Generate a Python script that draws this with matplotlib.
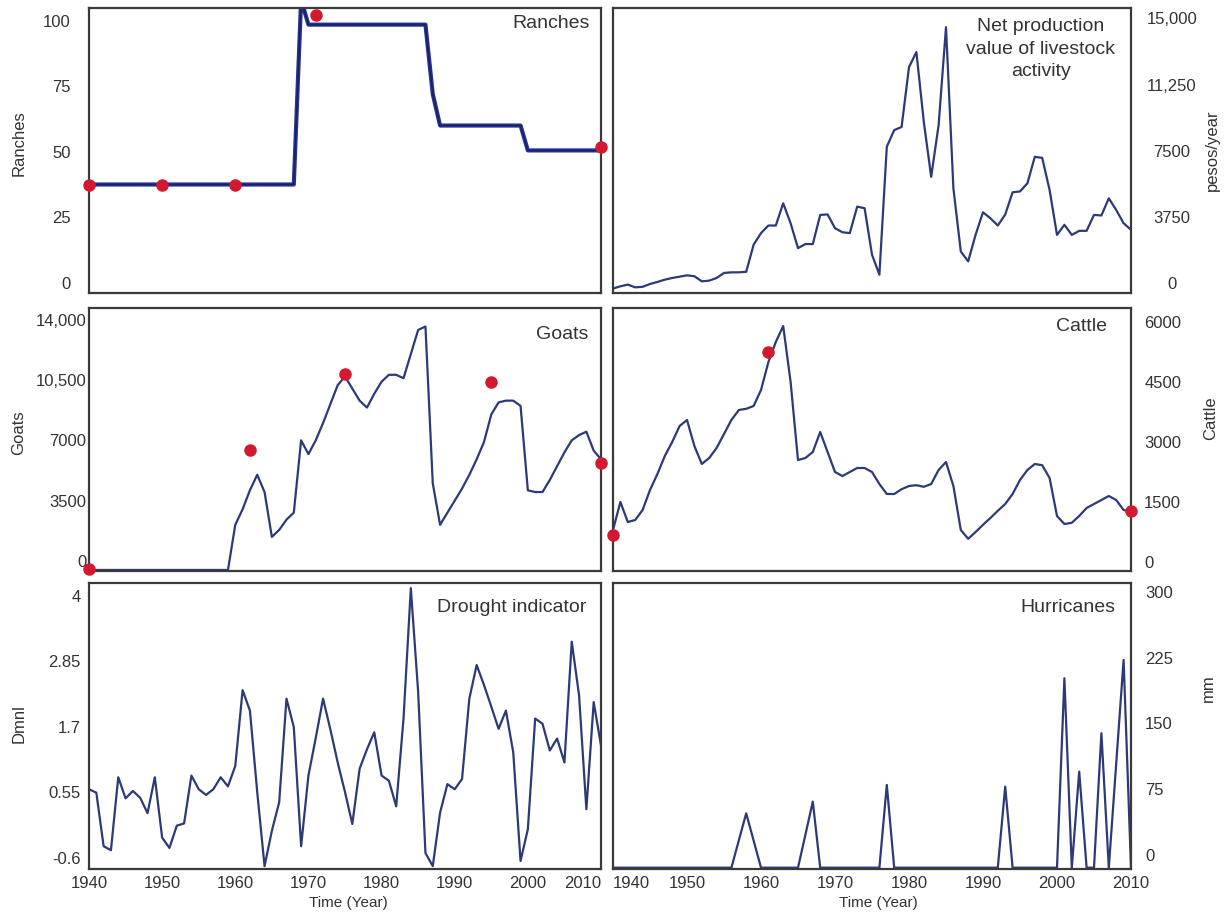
import matplotlib
matplotlib.use("Agg")
import matplotlib.pyplot as plt

plt.rcParams["font.family"] = ["Liberation Sans", "DejaVu Sans"]

# ---- data ----
years = list(range(1940, 2011))

ranches = [
    37.5, 37.5, 37.5, 37.5, 37.5, 37.5, 37.5, 37.5, 37.5, 37.5,   # 1940s
    37.5, 37.5, 37.5, 37.5, 37.5, 37.5, 37.5, 37.5, 37.5, 37.5,   # 1950s
    37.5, 37.5, 37.5, 37.5, 37.5, 37.5, 37.5, 37.5, 37.5, 108,    # 1960s
    98.5, 98.5, 98.5, 98.5, 98.5, 98.5, 98.5, 98.5, 98.5, 98.5,   # 1970s
    98.5, 98.5, 98.5, 98.5, 98.5, 98.5, 98.5, 72, 60, 60,         # 1980s
    60, 60, 60, 60, 60, 60, 60, 60, 60, 60,                       # 1990s
    50.5, 50.5, 50.5, 50.5, 50.5, 50.5, 50.5, 50.5, 50.5, 50.5, 50.5,
]
ranch_obs_years = [1940, 1950, 1960, 1971, 2010]
ranch_obs = [37.5, 37.5, 37.5, 102, 52]

net_production = [
    -300, -170, -75, -230, -200, -40, 75, 205, 300, 375,
    450, 400, 110, 150, 300, 585, 620, 620, 650, 2180,
    2840, 3270, 3270, 4530, 3400, 1990, 2220, 2220, 3870, 3900,
    3120, 2890, 2840, 4340, 4250, 1620, 490, 7730, 8670, 8850,
    12240, 13090, 9140, 6030, 8950, 14500, 5375, 1800, 1240, 2750,
    4020, 3680, 3270, 3890, 5150, 5200, 5660, 7160, 7100, 5280,
    2740, 3310, 2740, 2970, 2970, 3870, 3840, 4810, 4150, 3400, 3030,
]

goats = [
    -520, -520, -520, -520, -520, -520, -520, -520, -520, -520,
    -520, -520, -520, -520, -520, -520, -520, -520, -520, -520,
    2100, 3000, 4100, 5000, 4000, 1400, 1800, 2400, 2800, 7000,
    6200, 7000, 8000, 9100, 10200, 10700, 10000, 9300, 8900, 9700,
    10400, 10800, 10800, 10600, 12000, 13400, 13600, 4500, 2100, 2800,
    3500, 4200, 5000, 5900, 6900, 8500, 9200, 9300, 9300, 9000,
    4100, 4000, 4000, 4700, 5500, 6300, 7000, 7300, 7500, 6400, 5900,
]
goat_obs_years = [1940, 1962, 1975, 1995, 2010]
goat_obs = [-460, 6440, 10830, 10370, 5670]

cattle = [
    800, 1500, 1000, 1050, 1300, 1800, 2200, 2650, 3000, 3400,
    3550, 2900, 2450, 2600, 2850, 3200, 3550, 3800, 3830, 3900,
    4300, 5000, 5500, 5900, 4500, 2550, 2600, 2750, 3250, 2750,
    2250, 2150, 2250, 2350, 2350, 2250, 1950, 1700, 1700, 1820,
    1900, 1920, 1880, 1950, 2300, 2500, 1900, 800, 580, 750,
    930, 1100, 1280, 1450, 1700, 2050, 2300, 2450, 2420, 2100,
    1150, 950, 980, 1150, 1350, 1450, 1550, 1650, 1550, 1300, 1260,
]
cattle_obs_years = [1940, 1961, 2010]
cattle_obs = [675, 5260, 1275]

drought = [
    0.60, 0.54, -0.40, -0.47, 0.81, 0.44, 0.57, 0.45, 0.18, 0.81,
    -0.25, -0.43, -0.04, 0.00, 0.84, 0.60, 0.50, 0.60, 0.81, 0.65,
    1.01, 2.34, 1.98, 0.55, -0.75, -0.13, 0.37, 2.19, 1.69, -0.40,
    0.84, 1.50, 2.19, 1.65, 1.07, 0.55, -0.01, 0.96, 1.30, 1.60,
    0.84, 0.75, 0.30, 1.84, 4.13, 2.31, -0.52, -0.75, 0.19, 0.69,
    0.60, 0.78, 2.19, 2.78, 2.43, 2.05, 1.66, 1.98, 1.25, -0.66,
    -0.10, 1.84, 1.75, 1.28, 1.49, 1.07, 3.19, 2.25, 0.25, 2.13, 1.37,
]

hurricanes = [
    -14.5, -14.5, -14.5, -14.5, -14.5, -14.5, -14.5, -14.5, -14.5, -14.5,
    -14.5, -14.5, -14.5, -14.5, -14.5, -14.5, -14.5, 16.5, 47.5, 16.5,
    -14.5, -14.5, -14.5, -14.5, -14.5, -14.5, 23, 60.8, -14.5, -14.5,
    -14.5, -14.5, -14.5, -14.5, -14.5, -14.5, -14.5, 79.8, -14.5, -14.5,
    -14.5, -14.5, -14.5, -14.5, -14.5, -14.5, -14.5, -14.5, -14.5, -14.5,
    -14.5, -14.5, -14.5, 77.9, -14.5, -14.5, -14.5, -14.5, -14.5, -14.5,
    -14.5, 201.5, -14.5, 95, -14.5, -14.5, 138.8, -14.5, 104, 222.3, -14.5,
]

x_ticks = [1940, 1950, 1960, 1970, 1980, 1990, 2000, 2010]

LINE = "#2c3a78"
DOT = "#d3192f"
FRAME = "#3a3a3a"
TEXT = "#333333"

fig = plt.figure(figsize=(12.29, 9.14), dpi=100)


def px_axes(left, top, right, bottom):
    W, H = 1229, 914
    return fig.add_axes([left / W, 1 - bottom / H, (right - left) / W, (bottom - top) / H])


def style(ax, side, ylim, yticks, ylabels, pad, ha=None):
    ax.set_xlim(1940, 2010)
    ax.set_ylim(*ylim)
    for s in ax.spines.values():
        s.set_color(FRAME)
        s.set_linewidth(1.6)
    ax.tick_params(length=0, labelsize=12, colors=TEXT)
    if side == "right":
        ax.yaxis.tick_right()
        ax.yaxis.set_label_position("right")
    ax.set_yticks(yticks, ylabels)
    ax.tick_params(axis="y", pad=pad)
    if ha:
        for lab in ax.get_yticklabels():
            lab.set_ha(ha)
    ax.set_xticks([])


def title(ax, text, x, y):
    ax.text(x, y, text, transform=ax.transAxes, ha="right", va="center",
            fontsize=14, color=TEXT)


# top-left: ranches
ax = px_axes(89, 8, 601, 293)
style(ax, "left", (-3.9, 104.85), [0, 25, 50, 75, 100],
      ["0", "25", "50", "75", "100"], 13)
ax.plot(years, ranches, color="#2433a0", lw=3.0)
ax.plot(years, ranches, color="#1c2255", lw=1.1)
ax.plot(ranch_obs_years, ranch_obs, "o", color=DOT, ms=8, clip_on=False, zorder=5)
title(ax, "Ranches", 0.979, 0.944)
ax.set_ylabel("Ranches", fontsize=12, color=TEXT)
ax.yaxis.set_label_coords(-0.122, 0.526)

# top-right: net production value
ax = px_axes(613, 8, 1131, 293)
style(ax, "right", (-550, 15585), [0, 3750, 7500, 11250, 15000],
      ["0", "3750", "7500", "11,250", "15,000"], 29.5, ha="center")
ax.plot(years, net_production, color=LINE, lw=1.6)
ax.text(0.826, 0.856, "Net production\nvalue of livestock\nactivity",
        transform=ax.transAxes, ha="center", va="center", fontsize=14,
        color=TEXT, linespacing=1.45)
ax.set_ylabel("pesos/year", fontsize=12, color=TEXT)
ax.yaxis.set_label_coords(1.143, 0.5)

# middle-left: goats
ax = px_axes(89, 308, 601, 571)
style(ax, "left", (-580, 14674), [0, 3500, 7000, 10500, 14000],
      ["0", "3500", "7000", "10,500", "14,000"], 2)
ax.plot(years, goats, color=LINE, lw=1.6)
ax.plot(goat_obs_years, goat_obs, "o", color=DOT, ms=8, clip_on=False, zorder=5)
title(ax, "Goats", 0.975, 0.9)
ax.set_ylabel("Goats", fontsize=12, color=TEXT)
ax.yaxis.set_label_coords(-0.122, 0.525)

# middle-right: cattle
ax = px_axes(613, 308, 1131, 571)
style(ax, "right", (-225, 6350), [0, 1500, 3000, 4500, 6000],
      ["0", "1500", "3000", "4500", "6000"], 9.5)
ax.plot(years, cattle, color=LINE, lw=1.6)
ax.plot(cattle_obs_years, cattle_obs, "o", color=DOT, ms=8, clip_on=False, zorder=5)
title(ax, "Cattle", 0.954, 0.928)
ax.set_ylabel("Cattle", fontsize=12, color=TEXT)
ax.yaxis.set_label_coords(1.139, 0.582)

# bottom-left: drought indicator
ax = px_axes(89, 583, 601, 869)
style(ax, "left", (-0.8, 4.22), [-0.6, 0.55, 1.7, 2.85, 4],
      ["-0.6", "0.55", "1.7", "2.85", "4"], 6)
ax.plot(years, drought, color=LINE, lw=1.6)
title(ax, "Drought indicator", 0.971, 0.913)
ax.set_ylabel("Dmnl", fontsize=12, color=TEXT)
ax.yaxis.set_label_coords(-0.122, 0.51)
ax.set_xticks(x_ticks, [str(t) for t in x_ticks])
ax.tick_params(axis="x", pad=5)
ax.get_xticklabels()[-1].set_ha("right")
ax.set_xlabel("Time (Year)", fontsize=11, color=TEXT)
ax.xaxis.set_label_coords(0.506, -0.094)

# bottom-right: hurricanes
ax = px_axes(613, 583, 1131, 869)
style(ax, "right", (-16, 310), [0, 75, 150, 225, 300],
      ["0", "75", "150", "225", "300"], 10)
ax.plot(years, hurricanes, color=LINE, lw=1.6)
title(ax, "Hurricanes", 0.969, 0.913)
ax.set_ylabel("mm", fontsize=12, color=TEXT)
ax.yaxis.set_label_coords(1.135, 0.633)
ax.set_xticks(x_ticks, [str(t) for t in x_ticks])
ax.tick_params(axis="x", pad=5)
ax.get_xticklabels()[0].set_ha("left")
ax.set_xlabel("Time (Year)", fontsize=11, color=TEXT)
ax.xaxis.set_label_coords(0.513, -0.094)

fig.savefig("out.png", dpi=100)
plt.close(fig)
